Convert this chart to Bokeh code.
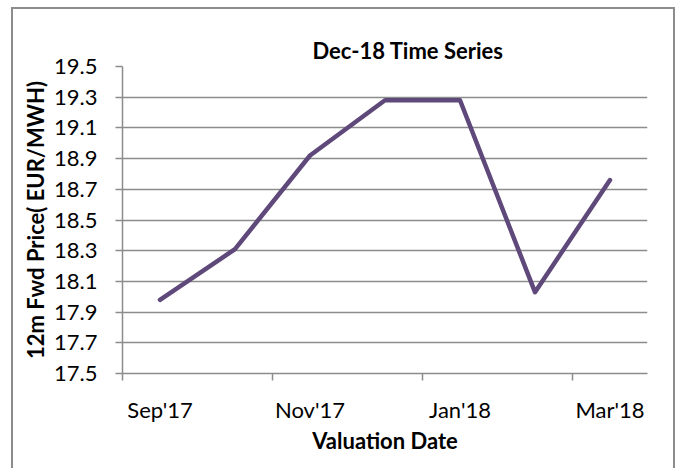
from bokeh.plotting import figure
from bokeh.models import Range1d, FixedTicker, PrintfTickFormatter, ColumnDataSource
from bokeh.embed import file_html
from bokeh.resources import INLINE

# ---- data ----
dates = ["Sep'17", "Oct'17", "Nov'17", "Dec'17", "Jan'18", "Feb'18", "Mar'18"]
prices = [17.98, 18.31, 18.92, 19.28, 19.28, 18.03, 18.76]
y_ticks = [17.5, 17.7, 17.9, 18.1, 18.3, 18.5, 18.7, 18.9, 19.1, 19.3, 19.5]
label_every = 2

FONT = "Lato"
GRAY = "#8c8c8c"
LINE = "#5f497a"

idx = list(range(len(dates)))
src = ColumnDataSource(dict(x=idx, price=prices, date=dates))

p = figure(width=664, height=461, output_backend="svg", toolbar_location=None,
           x_range=Range1d(-0.5, len(dates) - 0.5),
           y_range=Range1d(y_ticks[0], y_ticks[-1]),
           min_border_left=109, min_border_right=30,
           min_border_top=57, min_border_bottom=97,
           title="Dec-18 Time Series")

p.line("x", "price", source=src, line_color=LINE, line_width=4.5,
       line_cap="round", line_join="round")

# title
p.title.align = "left"
p.title.offset = 190
p.title.text_font = FONT
p.title.text_font_size = "22px"
p.title.text_font_style = "bold"
p.title.text_color = "#000000"
p.title.standoff = 6

p.outline_line_color = None
p.background_fill_color = "white"
p.border_fill_color = "white"

# x axis
label_pos = idx[::label_every]
xa = p.xaxis[0]
xa.ticker = FixedTicker(ticks=label_pos, minor_ticks=[i - 0.5 for i in label_pos])
xa.major_label_overrides = {i: dates[i] for i in label_pos}
xa.major_tick_out = 0
xa.major_tick_in = 0
xa.minor_tick_out = 7
xa.minor_tick_in = 0
xa.minor_tick_line_color = GRAY
xa.minor_tick_line_width = 1.5
xa.axis_line_color = GRAY
xa.axis_line_width = 1.5
xa.major_label_text_font = FONT
xa.major_label_text_font_size = "22px"
xa.major_label_text_color = "#000000"
xa.major_label_standoff = 15
xa.axis_label = "Valuation Date"
xa.axis_label_text_font = FONT
xa.axis_label_text_font_size = "22px"
xa.axis_label_text_font_style = "bold"
xa.axis_label_text_color = "#000000"
xa.axis_label_standoff = 1

# y axis
ya = p.yaxis[0]
ya.ticker = FixedTicker(ticks=y_ticks)
ya.formatter = PrintfTickFormatter(format="%.1f")
ya.major_tick_out = 7
ya.major_tick_in = 0
ya.minor_tick_out = 0
ya.minor_tick_in = 0
ya.major_tick_line_color = GRAY
ya.major_tick_line_width = 1.5
ya.axis_line_color = GRAY
ya.axis_line_width = 1.5
ya.major_label_text_font = FONT
ya.major_label_text_font_size = "22px"
ya.major_label_text_color = "#000000"
ya.major_label_standoff = 18
ya.axis_label = "12m Fwd Price( EUR/MWH)"
ya.axis_label_text_font = FONT
ya.axis_label_text_font_size = "22px"
ya.axis_label_text_font_style = "bold"
ya.axis_label_text_color = "#000000"
ya.axis_label_standoff = 2

# grid
p.xgrid.visible = False
p.ygrid.ticker = FixedTicker(ticks=y_ticks)
p.ygrid.grid_line_color = GRAY
p.ygrid.grid_line_width = 1.5

# outer chart border (bottom edge runs off the picture)
p.styles = {
    "margin-left": "11px",
    "margin-top": "7px",
    "border-top": "2px solid #8c8c8c",
    "border-left": "2px solid #8c8c8c",
    "border-right": "2px solid #8c8c8c",
}

open("out.html", "w").write(file_html(p, INLINE))
